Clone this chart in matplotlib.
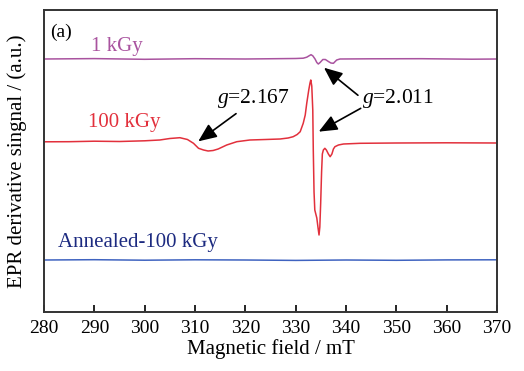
import matplotlib.pyplot as plt

plt.rcParams['font.family'] = ['Liberation Serif', 'DejaVu Serif']
plt.rcParams['mathtext.fontset'] = 'custom'
plt.rcParams['mathtext.it'] = 'Liberation Serif:italic'
plt.rcParams['mathtext.rm'] = 'Liberation Serif'

# spectra (field in mT, signal in a.u., baseline = 0)
field_1k = [280, 290, 300, 310, 320, 326, 330, 331.5, 332.2, 332.7, 333.05,
            333.4, 333.85, 334.2, 334.5, 334.85, 335.4, 335.9, 336.5, 337.0,
            337.5, 337.85, 338.15, 338.8, 345, 355, 365, 370]
sig_1k = [0, 0.4, -0.3, 0.3, 0, 0.3, 0.5, 0.8, 1.8, 3.3, 4.3,
          3.2, 0, -3.5, -5, -3.5, -0.5, -0.5, -2.5, -4,
          -4.3, -2.5, -1, 0, 0.2, 0.3, -0.2, 0]

field_100k = [280, 285, 290, 295, 300, 303.0, 305, 307.0, 308.5, 309.7,
              310.7, 311.7, 312.6, 313.6, 314.6, 316.3, 318.3, 320.9, 324,
              326.9, 328.5, 329.5, 330.3, 330.9, 331.5, 331.9, 332.2, 332.6,
              332.85, 333.0, 333.2, 333.4, 333.5, 333.65, 333.8, 333.95, 334.2,
              334.45, 334.64, 334.8, 334.97, 335.15, 335.3, 335.5, 335.8, 336.1,
              336.5, 336.85, 337.2, 337.5, 337.8, 338.5, 339.5, 342.8, 350,
              360, 370]
sig_100k = [0.2, 0.3, 0.8, 0.5, 1.2, 2, 3.5, 4.3, 2.5, -1.3,
            -6.3, -8, -9, -8.5, -7, -3, 0.3, 2, 2.5,
            3, 4, 5.3, 7.5, 10.3, 18.7, 27, 38.7, 52,
            59, 62, 56, 32, -8, -50, -68, -71, -76,
            -86, -93, -85, -61, -30, -12, -8, -6.3, -8,
            -12, -14.7, -12, -7, -4.7, -3, -2, -1.3, -1,
            -0.8, -1]

field_ann = [280, 290, 300, 310, 320, 330, 335, 340, 350, 360, 370]
sig_ann = [0, 0.3, -0.2, 0.2, 0, -0.4, -0.2, 0, -0.3, 0.1, 0.2]

# vertical offsets of the stacked traces
off_1k, off_100k, off_ann = 253, 170, 52

labels = ['1 kGy', '100 kGy', 'Annealed-100 kGy']
xticks = [280, 290, 300, 310, 320, 330, 340, 350, 360, 370]

fig = plt.figure(figsize=(5.24, 3.71), dpi=100)
ax = fig.add_axes([44 / 524, 1 - 312 / 371, 453 / 524, 302 / 371])

ax.plot(field_1k, [v + off_1k for v in sig_1k], color='#a9539f', lw=1.1)
ax.plot(field_100k, [v + off_100k for v in sig_100k], color='#e2303c', lw=1.1)
ax.plot(field_ann, [v + off_ann for v in sig_ann], color='#3f63c0', lw=1.1)

ax.set_xlim(280, 370)
ax.set_ylim(0, 302)
ax.set_xticks(xticks)
ax.set_yticks([])
ax.tick_params(axis='x', direction='in', length=5, width=1.2, labelsize=14, pad=6)
for sp in ax.spines.values():
    sp.set_linewidth(1.4)
    sp.set_color('#333333')

ax.set_xlabel('Magnetic field / mT', fontsize=15, labelpad=1)
ax.set_ylabel('EPR derivative singnal / (a.u.)', fontsize=15, labelpad=12)

ax.text(281.2, 280, '(a)', fontsize=14, va='center')
ax.text(289.3, 266, labels[0], color='#a9539f', fontsize=15, va='center')
ax.text(288.8, 189, labels[1], color='#e2303c', fontsize=15, va='center')
ax.text(282.8, 69, labels[2], color='#1c2a80', fontsize=15, va='center')

arrow = dict(arrowstyle='-|>,head_length=0.7,head_width=0.3', color='black',
             lw=1.2, mutation_scale=16)
ax.annotate('', xy=(310.2, 169), xytext=(318.6, 200), arrowprops=arrow)
ax.annotate('', xy=(335.2, 246), xytext=(342.8, 215), arrowprops=arrow)
ax.annotate('', xy=(334.1, 179), xytext=(343.4, 205), arrowprops=arrow)
ax.text(314.3, 213, '$g$=2.167', fontsize=15.5, va='center')
ax.text(343.2, 213, '$g$=2.011', fontsize=15.5, va='center')

plt.savefig('out.png', dpi=100)
